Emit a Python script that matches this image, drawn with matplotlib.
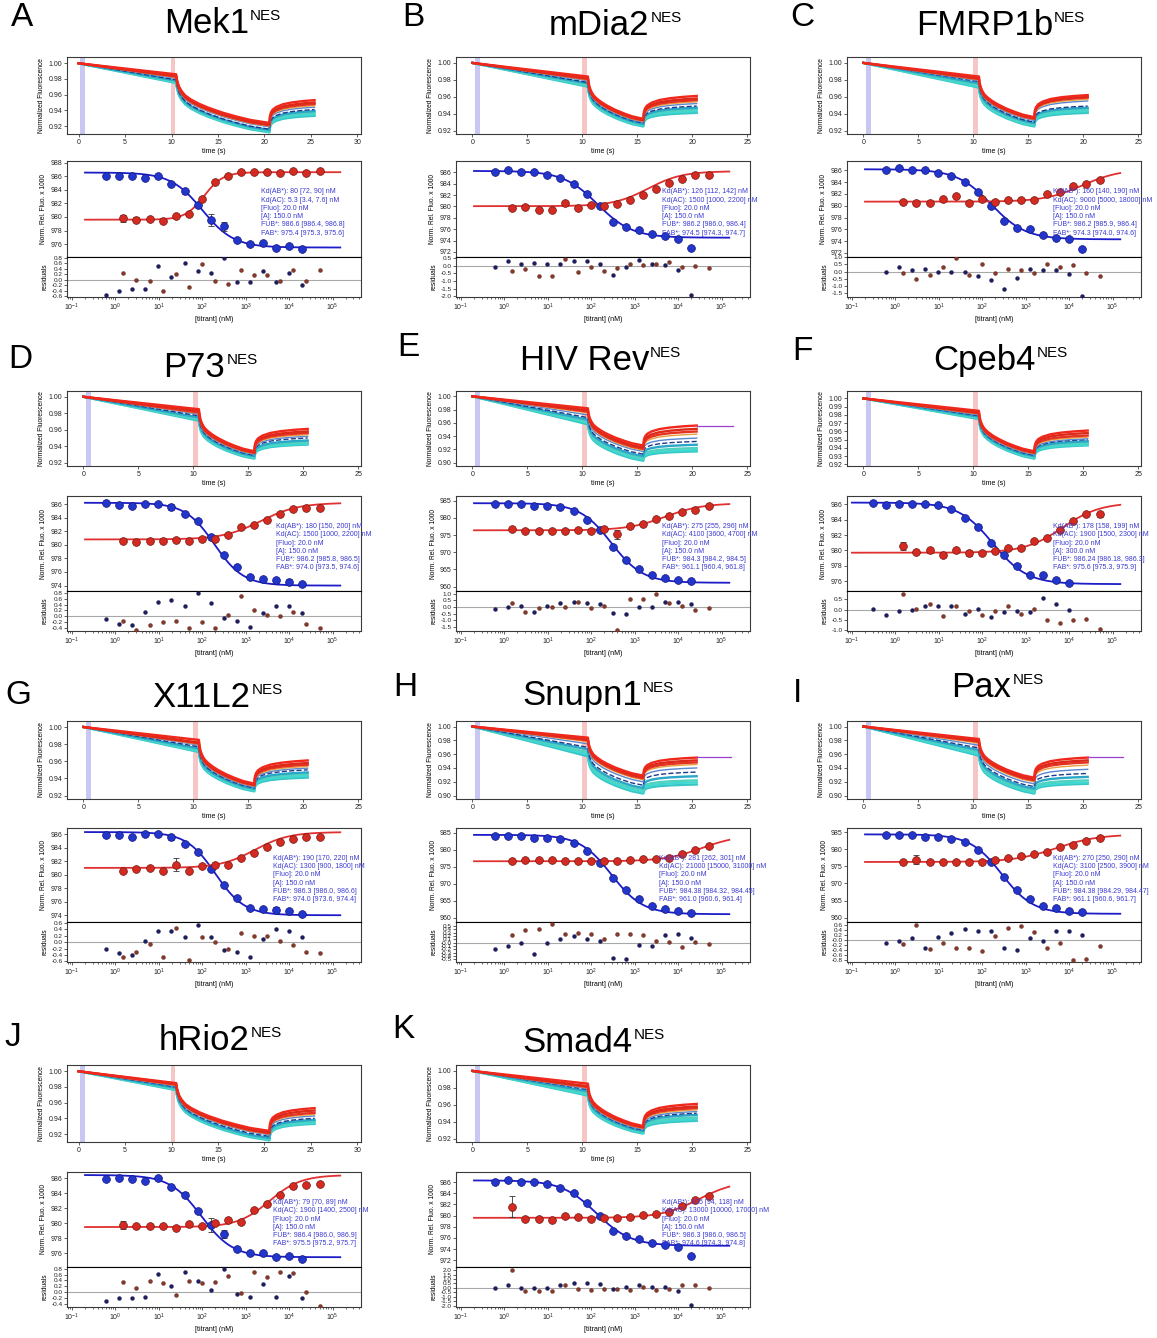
import numpy as np
import matplotlib
matplotlib.use("Agg")
import matplotlib.pyplot as plt
from matplotlib.ticker import LogLocator, NullFormatter, FormatStrFormatter

plt.rcParams['font.family'] = ['Liberation Sans', 'DejaVu Sans']
plt.rcParams['mathtext.fontset'] = 'custom'
plt.rcParams['mathtext.rm'] = 'Liberation Sans'
plt.rcParams['mathtext.it'] = 'Liberation Sans:italic'
plt.rcParams['mathtext.bf'] = 'Liberation Sans:bold'
plt.rcParams['mathtext.default'] = 'regular'

# ---------------- titrant concentrations (nM) ----------------
CONC_BLUE = [0.61, 1.22, 2.44, 4.88, 9.77, 19.5, 39.1, 78.1, 156, 313, 625, 1250, 2500, 5000, 10000, 20000]
CONC_BLUE_F = [0.305, 0.61, 1.22, 2.44, 4.88, 9.77, 19.5, 39.1, 78.1, 156, 313, 625, 1250, 2500, 5000, 10000]
CONC_RED = [1.53, 3.05, 6.1, 12.2, 24.4, 48.8, 97.7, 195, 391, 781, 1563, 3125, 6250, 12500, 25000, 50000]

# shared normalized shape of the thermophoresis traces
HOT_U = [0, 0.01, 0.03, 0.06, 0.1, 0.16, 0.25, 0.35, 0.5, 0.65, 0.8, 1.0]
HOT_F = [0, 0.12, 0.25, 0.35, 0.44, 0.52, 0.61, 0.69, 0.79, 0.87, 0.94, 1.0]
REC_U = [0, 0.01, 0.03, 0.07, 0.15, 0.3, 0.5, 0.75, 1.0]
REC_F = [0, 0.3, 0.45, 0.58, 0.7, 0.82, 0.9, 0.96, 1.0]
TRACE_COLORS = ['#36c6c6', '#3fd8d2', '#4fd2c0', '#2aa6c8', '#1e3a8c',
                '#5b86d0', '#e8a040', '#e63222', '#dc2a1a', '#f0281c']

# ---------------- panel A : Mek1 ----------------
A_BLUE = [986.0, 986.0, 986.0, 985.8, 986.0, 984.8, 983.8, 981.7, 979.6, 978.6, 976.6, 976.0, 976.1, 975.5, 975.7, 975.3]
A_BLUE_ERR = [0.15, 0.15, 0.15, 0.15, 0.15, 0.15, 0.35, 0.15, 0.9, 0.6, 0.15, 0.15, 0.2, 0.15, 0.15, 0.15]
A_RED = [979.8, 979.6, 979.7, 979.4, 980.2, 980.4, 982.6, 985.2, 986.0, 986.7, 986.6, 986.6, 986.5, 986.8, 986.5, 986.8]
A_RED_ERR = [0.55, 0.4, 0.15, 0.15, 0.2, 0.15, 0.15, 0.15, 0.15, 0.15, 0.15, 0.15, 0.15, 0.15, 0.15, 0.15]
A_BLUE_RES = [-0.55, -0.4, -0.35, -0.35, 0.5, 0.1, 0.6, 0.3, 0.25, 0.8, -0.1, -0.1, 0.3, -0.1, 0.25, -0.2]
A_RED_RES = [0.25, 0.0, -0.05, -0.4, 0.2, -0.25, 0.55, -0.05, -0.15, 0.35, 0.15, 0.15, -0.05, 0.35, -0.05, 0.35]
A_BLUE_FIT = [986.55, 975.5, 100, 1.2]
A_RED_FIT = [979.6, 986.6, 110, 2.0]
A_TEXT = ["Kd(AB*): 80 [72, 90] nM", "Kd(AC): 5.3 [3.4, 7.6] nM", "[Fluo]: 20.0 nM", "[A]: 150.0 nM",
          "FUB*: 986.6 [986.4, 986.8]", "FAB*: 975.4 [975.3, 975.6]"]
A_TR_PRE = [0.975, 0.976, 0.977, 0.978, 0.979, 0.981, 0.982, 0.983, 0.984, 0.986]
A_TR_MIN = [0.912, 0.913, 0.914, 0.915, 0.916, 0.919, 0.920, 0.921, 0.922, 0.924]
A_TR_END = [0.933, 0.935, 0.937, 0.939, 0.941, 0.944, 0.946, 0.948, 0.950, 0.953]

# ---------------- panel B : mDia2 ----------------
B_BLUE = [986.1, 986.4, 986.1, 986.0, 985.6, 985.0, 984.0, 982.2, 980.0, 977.3, 976.4, 975.9, 975.1, 974.8, 974.3, 972.7]
B_BLUE_ERR = [0.2] * 16
B_RED = [979.7, 979.9, 979.4, 979.4, 980.6, 979.8, 980.2, 980.1, 980.5, 981.2, 982.0, 983.1, 984.2, 984.9, 985.5, 985.6]
B_RED_ERR = [0.25, 0.25, 0.25, 0.25, 0.35, 0.25, 0.2, 0.2, 0.2, 0.2, 0.2, 0.2, 0.2, 0.2, 0.2, 0.2]
B_BLUE_RES = [-0.05, 0.3, 0.1, 0.2, 0.1, 0.15, 0.3, 0.3, 0.15, -0.6, -0.05, 0.35, 0.1, 0.05, -0.3, -1.9]
B_RED_RES = [-0.35, -0.2, -0.7, -0.65, 0.45, -0.4, -0.1, -0.35, -0.15, 0.1, 0.05, 0.15, 0.25, -0.1, 0.0, -0.15]
B_BLUE_FIT = [986.25, 974.5, 140, 1.1]
B_RED_FIT = [980.05, 986.2, 2000, 1.1]
B_TEXT = ["Kd(AB*): 126 [112, 142] nM", "Kd(AC): 1500 [1000, 2200] nM", "[Fluo]: 20.0 nM", "[A]: 150.0 nM",
          "FUB*: 986.2 [986.0, 986.4]", "FAB*: 974.5 [974.3, 974.7]"]
B_TR_PRE = [0.972, 0.973, 0.974, 0.976, 0.977, 0.979, 0.980, 0.981, 0.982, 0.984]
B_TR_MIN = [0.925, 0.926, 0.927, 0.928, 0.929, 0.930, 0.931, 0.932, 0.933, 0.934]
B_TR_END = [0.941, 0.943, 0.945, 0.947, 0.949, 0.952, 0.954, 0.956, 0.958, 0.961]

# ---------------- panel C : FMRP1b ----------------
C_BLUE = [986.1, 986.4, 986.1, 986.0, 985.6, 985.1, 984.1, 982.3, 980.0, 977.4, 976.3, 976.0, 975.1, 974.6, 974.3, 972.6]
C_BLUE_ERR = [0.2] * 16
C_RED = [980.7, 980.4, 980.5, 981.2, 981.6, 980.5, 981.2, 980.7, 981.0, 981.0, 981.0, 982.0, 982.3, 983.3, 983.7, 984.4]
C_RED_ERR = [0.25] * 16
C_BLUE_RES = [0.0, 0.3, 0.1, 0.15, 0.0, -0.05, -0.05, -0.3, -0.6, -1.2, -0.45, 0.2, 0.1, 0.1, -0.2, -1.7]
C_RED_RES = [-0.1, -0.5, -0.25, 0.35, 0.95, -0.25, 0.55, -0.1, 0.15, 0.1, -0.1, 0.5, 0.3, 0.45, -0.1, -0.3]
C_BLUE_FIT = [986.2, 974.3, 160, 1.1]
C_RED_FIT = [980.7, 986.2, 20000, 1.0]
C_TEXT = ["Kd(AB*): 160 [140, 190] nM", "Kd(AC): 9000 [5000, 18000] nM", "[Fluo]: 20.0 nM", "[A]: 150.0 nM",
          "FUB*: 986.2 [985.9, 986.4]", "FAB*: 974.3 [974.0, 974.6]"]
C_TR_PRE = [0.971, 0.972, 0.974, 0.976, 0.978, 0.979, 0.980, 0.981, 0.982, 0.984]
C_TR_MIN = [0.925, 0.926, 0.927, 0.929, 0.930, 0.932, 0.933, 0.934, 0.935, 0.936]
C_TR_END = [0.941, 0.943, 0.945, 0.947, 0.949, 0.955, 0.957, 0.959, 0.960, 0.962]

# ---------------- panel D : P73 ----------------
D_BLUE = [986.1, 985.9, 985.7, 986.0, 986.0, 985.6, 984.5, 983.5, 981.1, 978.5, 976.7, 975.2, 975.0, 974.8, 974.6, 974.3]
D_BLUE_ERR = [0.15, 0.15, 0.3, 0.15, 0.15, 0.4, 0.15, 0.15, 0.15, 0.15, 0.15, 0.3, 0.15, 0.35, 0.3, 0.3]
D_RED = [980.6, 980.4, 980.6, 980.6, 980.7, 980.6, 980.8, 980.8, 981.5, 982.7, 982.9, 983.6, 984.5, 985.3, 985.4, 985.5]
D_RED_ERR = [0.2] * 16
D_BLUE_RES = [-0.1, -0.25, -0.3, 0.15, 0.5, 0.55, 0.35, 0.8, 0.45, -0.05, -0.15, -0.35, 0.1, 0.35, 0.35, 0.1]
D_RED_RES = [-0.15, -0.45, -0.3, -0.2, -0.15, -0.4, -0.2, -0.4, 0.05, 0.7, 0.2, 0.05, 0.0, 0.15, -0.25, -0.4]
D_BLUE_FIT = [986.2, 974.0, 190, 1.3]
D_RED_FIT = [980.8, 986.2, 2200, 1.0]
D_TEXT = ["Kd(AB*): 180 [150, 200] nM", "Kd(AC): 1500 [1000, 2200] nM", "[Fluo]: 20.0 nM", "[A]: 150.0 nM",
          "FUB*: 986.2 [985.8, 986.5]", "FAB*: 974.0 [973.5, 974.6]"]
D_TR_PRE = [0.971, 0.972, 0.973, 0.975, 0.977, 0.979, 0.980, 0.981, 0.983, 0.985]
D_TR_MIN = [0.925, 0.926, 0.927, 0.928, 0.929, 0.930, 0.931, 0.932, 0.933, 0.934]
D_TR_END = [0.942, 0.943, 0.945, 0.947, 0.950, 0.952, 0.954, 0.956, 0.958, 0.961]

# ---------------- panel E : HIV Rev ----------------
E_BLUE = [984.0, 984.1, 984.1, 983.6, 983.6, 983.2, 981.9, 979.5, 976.5, 971.6, 967.8, 965.2, 963.3, 962.6, 962.0, 961.6]
E_BLUE_ERR = [0.3] * 16
E_RED = [976.8, 976.3, 976.3, 976.3, 976.3, 976.6, 976.3, 976.7, 975.2, 977.7, 978.3, 979.6, 980.5, 981.6, 982.3, 983.4]
E_RED_ERR = [0.3, 0.3, 0.3, 0.3, 0.3, 0.3, 0.3, 0.3, 1.3, 0.3, 0.3, 0.3, 0.3, 0.3, 0.3, 0.3]
E_BLUE_RES = [-0.15, 0.0, 0.05, -0.35, 0.1, 0.3, 0.35, 0.3, 0.25, -0.45, -0.55, 0.0, 0.0, 0.35, 0.35, 0.2]
E_RED_RES = [0.3, -0.35, -0.05, 0.0, 0.0, 0.35, -0.1, 0.05, -1.75, 0.6, 0.65, 1.0, 0.3, 0.1, -0.2, -0.1]
E_BLUE_FIT = [984.3, 961.1, 290, 1.2]
E_RED_FIT = [976.4, 984.3, 5000, 1.0]
E_TEXT = ["Kd(AB*): 275 [255, 296] nM", "Kd(AC): 4100 [3600, 4700] nM", "[Fluo]: 20.0 nM", "[A]: 150.0 nM",
          "FUB*: 984.3 [984.2, 984.5]", "FAB*: 961.1 [960.4, 961.8]"]
E_TR_PRE = [0.958, 0.960, 0.962, 0.965, 0.968, 0.972, 0.975, 0.977, 0.979, 0.982]
E_TR_MIN = [0.903, 0.905, 0.907, 0.910, 0.913, 0.917, 0.919, 0.921, 0.923, 0.926]
E_TR_END = [0.917, 0.919, 0.922, 0.927, 0.932, 0.937, 0.943, 0.947, 0.951, 0.956]
E_EXTRA = [20.4, 23.7, 0.956]

# ---------------- panel F : Cpeb4 ----------------
F_BLUE = [986.2, 985.9, 986.0, 986.0, 986.0, 985.9, 985.4, 984.2, 983.1, 981.0, 979.4, 977.9, 976.8, 976.8, 976.2, 975.8]
F_BLUE_ERR = [0.15, 0.15, 0.15, 0.15, 0.15, 0.15, 0.15, 0.15, 0.35, 0.15, 0.15, 0.15, 0.15, 0.3, 0.15, 0.15]
F_RED = [980.6, 979.8, 980.0, 979.4, 980.0, 979.7, 979.6, 979.9, 980.3, 980.3, 981.2, 981.6, 982.6, 983.8, 984.7, 984.7]
F_RED_ERR = [0.5, 0.2, 0.3, 0.2, 0.2, 0.4, 0.2, 0.2, 0.2, 0.2, 0.2, 0.2, 0.2, 0.2, 0.2, 0.3]
F_BLUE_RES = [0.05, -0.25, -0.05, 0.0, 0.2, 0.2, 0.2, -0.2, 0.05, -0.35, -0.1, -0.05, -0.1, 0.55, 0.25, 0.0]
F_RED_RES = [0.75, 0.05, 0.25, -0.3, 0.2, -0.05, -0.25, -0.05, 0.2, -0.2, 0.05, -0.5, -0.65, -0.5, -0.45, -0.95]
F_BLUE_FIT = [986.24, 975.6, 175, 1.1]
F_RED_FIT = [979.7, 986.24, 7000, 1.0]
F_TEXT = ["Kd(AB*): 178 [158, 199] nM", "Kd(AC): 1900 [1500, 2300] nM", "[Fluo]: 20.0 nM", "[A]: 300.0 nM",
          "FUB*: 986.24 [986.18, 986.3]", "FAB*: 975.6 [975.3, 975.9]"]
F_TR_PRE = [0.975, 0.976, 0.977, 0.978, 0.979, 0.980, 0.981, 0.982, 0.983, 0.985]
F_TR_MIN = [0.927, 0.928, 0.929, 0.930, 0.931, 0.932, 0.933, 0.934, 0.935, 0.936]
F_TR_END = [0.943, 0.944, 0.946, 0.948, 0.950, 0.951, 0.953, 0.955, 0.958, 0.961]

# ---------------- panel G : X11L2 ----------------
G_BLUE = [985.9, 985.8, 985.6, 986.0, 986.0, 985.5, 984.5, 983.4, 980.9, 978.4, 976.6, 975.1, 974.9, 974.8, 974.6, 974.2]
G_BLUE_ERR = [0.15, 0.15, 0.3, 0.15, 0.15, 0.35, 0.15, 0.15, 0.15, 0.15, 0.15, 0.15, 0.15, 0.45, 0.35, 0.15]
G_RED = [980.6, 980.8, 981.0, 980.6, 981.5, 980.6, 981.3, 981.4, 981.4, 982.5, 983.2, 984.1, 984.8, 985.3, 985.5, 985.6]
G_RED_ERR = [0.2, 0.2, 0.2, 0.2, 1.0, 0.2, 0.2, 0.2, 0.2, 0.2, 0.2, 0.2, 0.2, 0.2, 0.2, 0.2]
G_BLUE_RES = [-0.2, -0.35, -0.4, 0.05, 0.35, 0.35, 0.15, 0.55, 0.15, -0.25, -0.3, -0.45, 0.1, 0.4, 0.35, 0.15]
G_RED_RES = [-0.45, -0.3, -0.05, -0.45, 0.45, -0.55, 0.15, 0.0, -0.2, 0.3, 0.2, 0.2, 0.05, -0.1, -0.3, -0.35]
G_BLUE_FIT = [986.3, 974.0, 200, 1.3]
G_RED_FIT = [981.0, 986.3, 1600, 1.1]
G_TEXT = ["Kd(AB*): 190 [170, 220] nM", "Kd(AC): 1300 [900, 1800] nM", "[Fluo]: 20.0 nM", "[A]: 150.0 nM",
          "FUB*: 986.3 [986.0, 986.6]", "FAB*: 974.0 [973.6, 974.4]"]
G_TR_PRE = [0.971, 0.972, 0.974, 0.975, 0.977, 0.979, 0.980, 0.981, 0.982, 0.985]
G_TR_MIN = [0.925, 0.926, 0.927, 0.928, 0.929, 0.930, 0.931, 0.932, 0.933, 0.934]
G_TR_END = [0.941, 0.943, 0.945, 0.947, 0.950, 0.952, 0.954, 0.956, 0.958, 0.961]

# ---------------- panel H : Snupn1 ----------------
H_BLUE = [984.1, 984.1, 984.1, 983.6, 983.6, 983.1, 981.9, 979.6, 976.2, 971.6, 968.0, 965.4, 963.3, 962.6, 961.9, 961.4]
H_BLUE_ERR = [0.3] * 16
H_RED = [976.7, 976.9, 976.9, 977.1, 976.7, 976.7, 976.7, 976.7, 976.7, 976.9, 977.2, 977.2, 977.7, 978.8, 979.9, 981.2]
H_RED_ERR = [0.5, 0.3, 0.3, 0.5, 0.3, 0.3, 0.3, 0.3, 0.3, 0.3, 0.3, 0.3, 0.3, 0.3, 0.3, 0.3]
H_BLUE_RES = [-0.19, -0.1, 0.0, -0.33, 0.0, 0.12, 0.2, 0.1, 0.05, -0.45, -0.5, -0.08, -0.1, 0.23, 0.27, 0.15]
H_RED_RES = [0.23, 0.37, 0.4, 0.55, 0.25, 0.3, 0.25, 0.1, 0.25, 0.25, 0.23, 0.05, 0.03, -0.12, 0.02, -0.05]
H_BLUE_FIT = [984.38, 961.0, 290, 1.2]
H_RED_FIT = [976.6, 984.38, 35000, 1.0]
H_TEXT = ["Kd(AB*): 281 [262, 301] nM", "Kd(AC): 21000 [15000, 31000] nM", "[Fluo]: 20.0 nM", "[A]: 150.0 nM",
          "FUB*: 984.38 [984.32, 984.45]", "FAB*: 961.0 [960.6, 961.4]"]
H_TR_PRE = [0.957, 0.960, 0.963, 0.967, 0.970, 0.975, 0.978, 0.980, 0.982, 0.984]
H_TR_MIN = [0.903, 0.905, 0.908, 0.911, 0.915, 0.920, 0.923, 0.925, 0.927, 0.929]
H_TR_END = [0.916, 0.919, 0.922, 0.928, 0.934, 0.940, 0.945, 0.948, 0.951, 0.955]
H_EXTRA = [20.4, 23.5, 0.956]

# ---------------- panel I : Pax ----------------
I_BLUE = [984.2, 984.3, 984.3, 983.7, 983.7, 983.1, 982.1, 979.8, 976.4, 972.0, 968.0, 965.4, 963.4, 962.7, 962.0, 961.5]
I_BLUE_ERR = [0.3] * 16
I_RED = [976.4, 977.0, 976.2, 976.4, 976.4, 976.4, 976.4, 977.0, 977.6, 978.1, 978.6, 979.2, 980.8, 981.4, 982.4, 983.4]
I_RED_ERR = [0.3, 1.2, 0.3, 0.3, 0.3, 0.3, 0.3, 0.3, 0.3, 0.3, 0.3, 0.3, 0.3, 0.3, 0.3, 0.3]
I_BLUE_RES = [-0.12, -0.03, 0.08, -0.32, 0.12, 0.28, 0.44, 0.37, 0.37, -0.29, -0.39, 0.08, -0.03, 0.37, 0.37, 0.19]
I_RED_RES = [-0.15, 0.61, -0.36, -0.12, -0.29, -0.32, -0.43, 0.15, 0.48, 0.55, 0.31, -0.32, -0.12, -0.8, -0.75, -0.21]
I_BLUE_FIT = [984.38, 961.1, 280, 1.2]
I_RED_FIT = [976.3, 984.38, 5000, 0.9]
I_TEXT = ["Kd(AB*): 270 [250, 290] nM", "Kd(AC): 3100 [2500, 3900] nM", "[Fluo]: 20.0 nM", "[A]: 150.0 nM",
          "FUB*: 984.38 [984.29, 984.47]", "FAB*: 961.1 [960.6, 961.7]"]
I_TR_PRE = [0.958, 0.960, 0.963, 0.966, 0.969, 0.973, 0.976, 0.978, 0.980, 0.982]
I_TR_MIN = [0.903, 0.905, 0.907, 0.910, 0.913, 0.917, 0.920, 0.922, 0.924, 0.926]
I_TR_END = [0.917, 0.919, 0.922, 0.927, 0.932, 0.938, 0.944, 0.948, 0.951, 0.955]
I_EXTRA = [20.4, 23.6, 0.956]

# ---------------- panel J : hRio2 ----------------
J_BLUE = [985.9, 986.0, 985.9, 985.6, 986.0, 984.8, 983.8, 981.6, 979.8, 978.6, 976.6, 976.0, 976.0, 975.5, 975.7, 975.3]
J_BLUE_ERR = [0.15, 0.15, 0.15, 0.15, 0.15, 0.15, 0.35, 0.15, 0.9, 0.55, 0.15, 0.15, 0.15, 0.15, 0.15, 0.15]
J_RED = [979.8, 979.6, 979.7, 979.7, 979.4, 979.9, 979.7, 980.0, 980.5, 980.2, 981.7, 982.5, 983.8, 984.9, 985.1, 985.2]
J_RED_ERR = [0.5, 0.2, 0.2, 0.2, 0.2, 0.2, 0.2, 0.2, 0.2, 0.2, 0.2, 0.2, 0.2, 0.2, 0.2, 0.2]
J_BLUE_RES = [-0.32, -0.2, -0.2, -0.17, 0.62, 0.2, 0.68, 0.38, 0.07, 0.8, -0.08, -0.17, 0.27, -0.17, 0.55, -0.22]
J_RED_RES = [0.33, 0.15, 0.38, 0.3, -0.1, 0.38, 0.32, 0.35, 0.55, -0.05, 0.7, 0.52, 0.7, 0.65, 0.0, -0.47]
J_BLUE_FIT = [986.4, 975.5, 95, 1.2]
J_RED_FIT = [979.5, 986.4, 3500, 1.2]
J_TEXT = ["Kd(AB*): 79 [70, 89] nM", "Kd(AC): 1900 [1400, 2500] nM", "[Fluo]: 20.0 nM", "[A]: 150.0 nM",
          "FUB*: 986.4 [986.0, 986.9]", "FAB*: 975.5 [975.2, 975.7]"]
J_TR_PRE = [0.976, 0.977, 0.978, 0.979, 0.980, 0.981, 0.982, 0.983, 0.984, 0.985]
J_TR_MIN = [0.912, 0.913, 0.914, 0.915, 0.917, 0.919, 0.920, 0.921, 0.922, 0.924]
J_TR_END = [0.933, 0.934, 0.936, 0.938, 0.940, 0.943, 0.945, 0.947, 0.950, 0.953]

# ---------------- panel K : Smad4 ----------------
K_BLUE = [986.1, 986.4, 986.1, 986.0, 985.6, 985.0, 984.0, 982.2, 980.0, 977.2, 976.4, 975.9, 975.1, 974.8, 974.4, 972.7]
K_BLUE_ERR = [0.2] * 16
K_RED = [981.6, 979.4, 979.4, 979.3, 979.9, 979.7, 979.4, 979.5, 979.5, 979.8, 980.1, 980.2, 980.7, 981.8, 982.8, 983.5]
K_RED_ERR = [1.9, 0.2, 0.2, 0.2, 0.2, 0.2, 0.2, 0.2, 0.2, 0.2, 0.2, 0.2, 0.2, 0.2, 0.2, 0.2]
K_BLUE_RES = [0.0, 0.35, 0.0, 0.0, 0.0, 0.35, 0.55, 0.6, 0.4, -0.15, 0.05, 0.35, 0.1, 0.05, -0.35, -1.9]
K_RED_RES = [2.0, -0.3, -0.3, -0.3, 0.3, -0.1, -0.2, -0.15, -0.15, -0.2, 0.1, -0.2, -0.1, 0.3, 0.3, 0.0]
K_BLUE_FIT = [986.3, 974.6, 130, 1.1]
K_RED_FIT = [979.6, 986.3, 30000, 1.0]
K_TEXT = ["Kd(AB*): 105 [94, 118] nM", "Kd(AC): 13000 [10000, 17000] nM", "[Fluo]: 20.0 nM", "[A]: 150.0 nM",
          "FUB*: 986.3 [986.0, 986.5]", "FAB*: 974.6 [974.3, 974.8]"]
K_TR_PRE = [0.971, 0.972, 0.974, 0.976, 0.978, 0.979, 0.980, 0.981, 0.982, 0.985]
K_TR_MIN = [0.926, 0.927, 0.928, 0.929, 0.930, 0.931, 0.932, 0.933, 0.934, 0.935]
K_TR_END = [0.941, 0.943, 0.945, 0.948, 0.950, 0.952, 0.954, 0.956, 0.958, 0.961]

NAMES = ['Mek1', 'mDia2', 'FMRP1b', 'P73', 'HIV Rev', 'Cpeb4', 'X11L2', 'Snupn1', 'Pax', 'hRio2', 'Smad4']
LETTERS = ['A', 'B', 'C', 'D', 'E', 'F', 'G', 'H', 'I', 'J', 'K']

# ---------------- layout (pixels) ----------------
W, H = 1157, 1338
COL_X = [67, 456, 847]
AX_W = 294
ROWS = [(57, 134, 161, 257, 297), (391, 466, 496, 591, 631),
        (721, 799, 828, 922, 962), (1065, 1142, 1172, 1267, 1307)]
LETTER_POS = [(22, 18), (413, 17), (802, 17), (20, 360), (408, 348), (802, 352),
              (18, 695), (405, 688), (797, 693), (13, 1037), (403, 1030)]
TITLE_POS = [(222, 33), (615, 35), (1000, 35), (210, 377), (600, 370), (1000, 370),
             (217, 707), (598, 705), (997, 697), (220, 1050), (593, 1052)]

panels = [
    dict(blue=A_BLUE, be=A_BLUE_ERR, red=A_RED, re=A_RED_ERR, bres=A_BLUE_RES, rres=A_RED_RES, bfit=A_BLUE_FIT, rfit=A_RED_FIT,
         text=A_TEXT, pre=A_TR_PRE, mn=A_TR_MIN, end=A_TR_END, extra=None, long=True, bc=CONC_BLUE,
         tylim=(0.9098, 1.008), tyt=np.arange(0.92, 1.001, 0.02), bylim=(974.1, 988.25), byt=range(976, 989, 2),
         rylim=(-0.63, 0.82), ryt=np.arange(-0.6, 0.81, 0.2), tx=0.66),
    dict(blue=B_BLUE, be=B_BLUE_ERR, red=B_RED, re=B_RED_ERR, bres=B_BLUE_RES, rres=B_RED_RES, bfit=B_BLUE_FIT, rfit=B_RED_FIT,
         text=B_TEXT, pre=B_TR_PRE, mn=B_TR_MIN, end=B_TR_END, extra=None, long=False, bc=CONC_BLUE,
         tylim=(0.916, 1.007), tyt=np.arange(0.92, 1.001, 0.02), bylim=(971.1, 988.0), byt=range(972, 987, 2),
         rylim=(-2.05, 0.58), ryt=np.arange(-2.0, 0.51, 0.5), tx=0.70),
    dict(blue=C_BLUE, be=C_BLUE_ERR, red=C_RED, re=C_RED_ERR, bres=C_BLUE_RES, rres=C_RED_RES, bfit=C_BLUE_FIT, rfit=C_RED_FIT,
         text=C_TEXT, pre=C_TR_PRE, mn=C_TR_MIN, end=C_TR_END, extra=None, long=False, bc=CONC_BLUE,
         tylim=(0.916, 1.007), tyt=np.arange(0.92, 1.001, 0.02), bylim=(971.3, 987.6), byt=range(972, 987, 2),
         rylim=(-1.78, 1.02), ryt=np.arange(-1.5, 1.01, 0.5), tx=0.70),
    dict(blue=D_BLUE, be=D_BLUE_ERR, red=D_RED, re=D_RED_ERR, bres=D_BLUE_RES, rres=D_RED_RES, bfit=D_BLUE_FIT, rfit=D_RED_FIT,
         text=D_TEXT, pre=D_TR_PRE, mn=D_TR_MIN, end=D_TR_END, extra=None, long=False, bc=CONC_BLUE,
         tylim=(0.916, 1.007), tyt=np.arange(0.92, 1.001, 0.02), bylim=(973.2, 987.2), byt=range(974, 987, 2),
         rylim=(-0.5, 0.86), ryt=np.arange(-0.4, 0.81, 0.2), tx=0.71),
    dict(blue=E_BLUE, be=E_BLUE_ERR, red=E_RED, re=E_RED_ERR, bres=E_BLUE_RES, rres=E_RED_RES, bfit=E_BLUE_FIT, rfit=E_RED_FIT,
         text=E_TEXT, pre=E_TR_PRE, mn=E_TR_MIN, end=E_TR_END, extra=E_EXTRA, long=False, bc=CONC_BLUE,
         tylim=(0.895, 1.008), tyt=np.arange(0.90, 1.001, 0.02), bylim=(958.7, 986.4), byt=range(960, 986, 5),
         rylim=(-1.82, 1.22), ryt=np.arange(-1.5, 1.01, 0.5), tx=0.70),
    dict(blue=F_BLUE, be=F_BLUE_ERR, red=F_RED, re=F_RED_ERR, bres=F_BLUE_RES, rres=F_RED_RES, bfit=F_BLUE_FIT, rfit=F_RED_FIT,
         text=F_TEXT, pre=F_TR_PRE, mn=F_TR_MIN, end=F_TR_END, extra=None, long=False, bc=CONC_BLUE_F,
         tylim=(0.918, 1.009), tyt=np.arange(0.92, 1.001, 0.01), bylim=(974.7, 987.1), byt=range(976, 987, 2),
         rylim=(-1.03, 0.9), ryt=np.arange(-1.0, 0.51, 0.5), tx=0.70),
    dict(blue=G_BLUE, be=G_BLUE_ERR, red=G_RED, re=G_RED_ERR, bres=G_BLUE_RES, rres=G_RED_RES, bfit=G_BLUE_FIT, rfit=G_RED_FIT,
         text=G_TEXT, pre=G_TR_PRE, mn=G_TR_MIN, end=G_TR_END, extra=None, long=False, bc=CONC_BLUE,
         tylim=(0.916, 1.007), tyt=np.arange(0.92, 1.001, 0.02), bylim=(973.0, 986.9), byt=range(974, 987, 2),
         rylim=(-0.62, 0.63), ryt=np.arange(-0.6, 0.61, 0.2), tx=0.70),
    dict(blue=H_BLUE, be=H_BLUE_ERR, red=H_RED, re=H_RED_ERR, bres=H_BLUE_RES, rres=H_RED_RES, bfit=H_BLUE_FIT, rfit=H_RED_FIT,
         text=H_TEXT, pre=H_TR_PRE, mn=H_TR_MIN, end=H_TR_END, extra=H_EXTRA, long=False, bc=CONC_BLUE,
         tylim=(0.895, 1.008), tyt=np.arange(0.90, 1.001, 0.02), bylim=(958.7, 986.4), byt=range(960, 986, 5),
         rylim=(-0.58, 0.62), ryt=np.arange(-0.5, 0.51, 0.1), tx=0.69),
    dict(blue=I_BLUE, be=I_BLUE_ERR, red=I_RED, re=I_RED_ERR, bres=I_BLUE_RES, rres=I_RED_RES, bfit=I_BLUE_FIT, rfit=I_RED_FIT,
         text=I_TEXT, pre=I_TR_PRE, mn=I_TR_MIN, end=I_TR_END, extra=I_EXTRA, long=False, bc=CONC_BLUE,
         tylim=(0.895, 1.008), tyt=np.arange(0.90, 1.001, 0.02), bylim=(958.7, 986.25), byt=range(960, 986, 5),
         rylim=(-0.86, 0.72), ryt=np.arange(-0.8, 0.61, 0.2), tx=0.70),
    dict(blue=J_BLUE, be=J_BLUE_ERR, red=J_RED, re=J_RED_ERR, bres=J_BLUE_RES, rres=J_RED_RES, bfit=J_BLUE_FIT, rfit=J_RED_FIT,
         text=J_TEXT, pre=J_TR_PRE, mn=J_TR_MIN, end=J_TR_END, extra=None, long=True, bc=CONC_BLUE,
         tylim=(0.9098, 1.008), tyt=np.arange(0.92, 1.001, 0.02), bylim=(974.2, 986.8), byt=range(976, 987, 2),
         rylim=(-0.52, 0.86), ryt=np.arange(-0.4, 0.81, 0.2), tx=0.70),
    dict(blue=K_BLUE, be=K_BLUE_ERR, red=K_RED, re=K_RED_ERR, bres=K_BLUE_RES, rres=K_RED_RES, bfit=K_BLUE_FIT, rfit=K_RED_FIT,
         text=K_TEXT, pre=K_TR_PRE, mn=K_TR_MIN, end=K_TR_END, extra=None, long=False, bc=CONC_BLUE,
         tylim=(0.916, 1.007), tyt=np.arange(0.92, 1.001, 0.02), bylim=(970.8, 987.8), byt=range(972, 987, 2),
         rylim=(-2.15, 2.35), ryt=np.arange(-2.0, 2.01, 0.5), tx=0.70),
]

SPINE = '#3a3a3a'
FS = 5


def add_ax(left, top, width, height):
    return fig.add_axes([left / W, 1 - (top + height) / H, width / W, height / H])


def style(ax):
    for s in ax.spines.values():
        s.set_color(SPINE)
        s.set_linewidth(0.8)
    ax.tick_params(labelsize=FS, length=2, width=0.5, pad=1.5, colors='#222222')


fig = plt.figure(figsize=(W / 100, H / 100), dpi=100)
renderer = fig.canvas.get_renderer()

for i, p in enumerate(panels):
    col = [0, 1, 2, 0, 1, 2, 0, 1, 2, 0, 1][i]
    row = i // 3
    x0 = COL_X[col]
    tt, tb, bt, sp, rb = ROWS[row]

    # ---- traces ----
    ax = add_ax(x0, tt, AX_W, tb - tt)
    style(ax)
    ax.axvspan(0.2, 0.7, color='#c8c8f2', lw=0, zorder=0)
    ax.axvspan(9.95, 10.4, color='#f6c6c6', lw=0, zorder=0)
    hot_end, t_end = (20.5, 25.4) if p['long'] else (15.5, 20.4)
    dur_hot = hot_end - 10.5
    dur_rec = t_end - hot_end - 0.05
    for k in range(len(p['pre'])):
        t = [0.0, 10.45] + [10.5 + u * dur_hot for u in HOT_U] + [hot_end + 0.05 + u * dur_rec for u in REC_U]
        pv, mv, ev = p['pre'][k], p['mn'][k], p['end'][k]
        y = [1.0, pv] + [pv + (mv - pv) * f for f in HOT_F] + [mv + (ev - mv) * f for f in REC_F]
        ls = '--' if k == 4 else '-'
        lw = 1.0 if k in (4, 5, 6) else 1.7
        ax.plot(t, y, color=TRACE_COLORS[k], lw=lw, ls=ls, zorder=2 + k * 0.01)
    if p['extra'] is not None:
        e = p['extra']
        ax.plot([e[0], e[1]], [e[2], e[2]], color='#9a3fd0', lw=0.9, zorder=3)
    if p['long']:
        ax.set_xlim(-1.25, 30.4)
        ax.set_xticks(range(0, 31, 5))
    else:
        ax.set_xlim(-1.5, 25.25)
        ax.set_xticks(range(0, 26, 5))
    ax.set_ylim(*p['tylim'])
    ax.set_yticks(p['tyt'])
    ax.yaxis.set_major_formatter(FormatStrFormatter('%.2f'))
    ax.set_xlabel('time (s)', fontsize=FS, labelpad=1.5)
    ax.set_ylabel('Normalized Fluorescence', fontsize=4.8, labelpad=2)

    # ---- binding curve ----
    axb = add_ax(x0, bt, AX_W, sp - bt)
    axr = add_ax(x0, sp, AX_W, rb - sp)
    style(axb)
    style(axr)
    for a in (axb, axr):
        a.set_xscale('log')
        a.set_xlim(0.077, 4.5e5)
    xs_start = 0.1 if i == 5 else 0.2
    xs = np.logspace(np.log10(xs_start), np.log10(1.5e5), 300)
    top, bot, ec, h = p['bfit']
    fr = xs ** h / (xs ** h + ec ** h)
    axb.plot(xs, top - (top - bot) * fr, color='#1c1cc8', lw=1.3, zorder=2)
    lo, hi, ec, h = p['rfit']
    fr = xs ** h / (xs ** h + ec ** h)
    axb.plot(xs, lo + (hi - lo) * fr, color='#e03030', lw=1.3, zorder=2)

    axb.plot(p['bc'], p['blue'], 'o', ms=5.6, mfc='#2236cc', mec='#14147a', mew=0.5, zorder=4)
    axb.errorbar(p['bc'], p['blue'], yerr=p['be'], fmt='none', ecolor='#333333', elinewidth=0.6,
                 capsize=2.2, capthick=0.6, zorder=3)
    axb.plot(CONC_RED, p['red'], 'o', ms=5.6, mfc='#d42a22', mec='#6e1a12', mew=0.5, zorder=4)
    axb.errorbar(CONC_RED, p['red'], yerr=p['re'], fmt='none', ecolor='#333333', elinewidth=0.6,
                 capsize=2.2, capthick=0.6, zorder=3)
    axb.set_ylim(*p['bylim'])
    axb.set_yticks(list(p['byt']))
    axb.tick_params(axis='x', which='both', bottom=False, labelbottom=False)
    axb.set_ylabel('Norm. Rel. Fluo. x 1000', fontsize=4.8, labelpad=2)
    axb.spines['bottom'].set_color('black')
    axb.text(p['tx'], 0.715, "\n".join(p['text']), transform=axb.transAxes, fontsize=5,
             color='#3a3ad2', va='top', ha='left', linespacing=1.25, zorder=5)

    # ---- residuals ----
    axr.axhline(0, color='#a8a8a8', lw=0.8, zorder=1)
    axr.plot(p['bc'], p['bres'], 'o', ms=2.8, mfc='#1d1d5c', mec='#1d1d5c', mew=0.3, zorder=3)
    axr.plot(CONC_RED, p['rres'], 'o', ms=2.8, mfc='#86382a', mec='#5a2418', mew=0.3, zorder=3)
    axr.set_ylim(*p['rylim'])
    axr.set_yticks(p['ryt'])
    axr.yaxis.set_major_formatter(FormatStrFormatter('%.1f'))
    axr.spines['top'].set_color('black')
    axr.set_xticks([1e-1, 1e0, 1e1, 1e2, 1e3, 1e4, 1e5])
    axr.xaxis.set_minor_locator(LogLocator(base=10, subs=np.arange(2, 10), numticks=20))
    axr.xaxis.set_minor_formatter(NullFormatter())
    axr.tick_params(axis='x', which='minor', length=1.3, width=0.4)
    axr.tick_params(axis='y', labelsize=4.6, pad=1)
    axr.set_xlabel('[titrant] (nM)', fontsize=FS, labelpad=2)
    axr.set_ylabel('residuals', fontsize=4.8, labelpad=2)

    # ---- letter and title ----
    lx, ly = LETTER_POS[i]
    fig.text(lx / W, 1 - ly / H, LETTERS[i], fontsize=24, ha='center', va='center')
    cx, base = TITLE_POS[i]
    t1 = fig.text(0, 0, NAMES[i], fontsize=25, ha='left', va='baseline')
    t2 = fig.text(0, 0, 'NES', fontsize=11, ha='left', va='baseline')
    w1 = t1.get_window_extent(renderer).width
    w2 = t2.get_window_extent(renderer).width
    left = cx - (w1 + w2) / 2
    t1.set_position((left / W, 1 - base / H))
    t2.set_position(((left + w1 + 1) / W, 1 - (base - 13) / H))

fig.savefig('out.png', dpi=100)
